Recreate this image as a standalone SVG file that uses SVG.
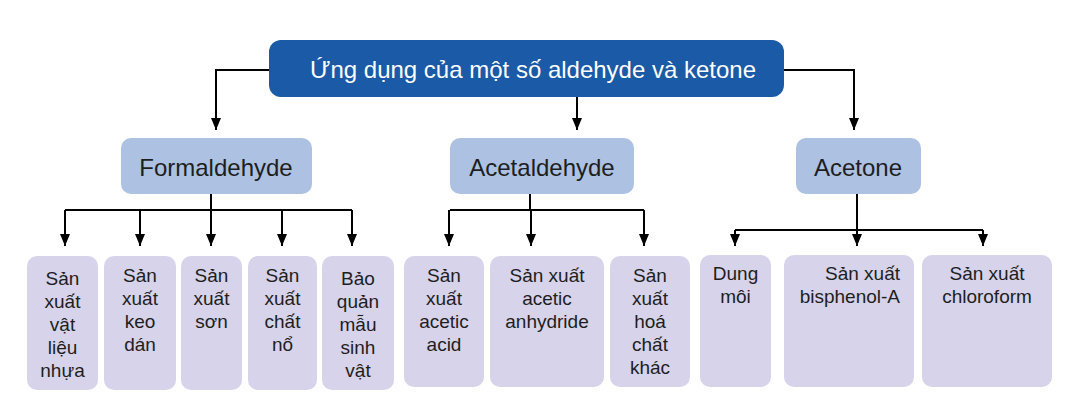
<svg xmlns="http://www.w3.org/2000/svg" width="1080" height="415" viewBox="0 0 1080 415">
<defs>
<marker id="ah" viewBox="0 0 12 10" refX="12" refY="5" markerWidth="12" markerHeight="10" markerUnits="userSpaceOnUse" orient="auto">
<path d="M0,0 L12,5 L0,10 z" fill="#000"/>
</marker>
</defs>
<style>
.root{fill:#1b5aa6}
.mid{fill:#adc2e2}
.leaf{fill:#d6d3ea}
text{font-family:"Liberation Sans",Arial,sans-serif;fill:#1e1e1e}
.t0{font-size:24px;fill:#fff}
.t1{font-size:24px;text-anchor:middle}
.t2{font-size:19px;text-anchor:middle}
.t3{font-size:19px;text-anchor:end}
.c{fill:none;stroke:#000;stroke-width:2}
.a{marker-end:url(#ah)}
</style>
<rect width="1080" height="415" fill="#fff"/>
<g id="connectors">
<path class="c a" d="M269,70 H216 V130"/>
<path class="c a" d="M577,97 V130"/>
<path class="c a" d="M784,70 H854 V130"/>
<path class="c" d="M211,194 V210 M65,210 H352 M450,210 H644 M530,194 V210 M857,194 V230 M735,230 H983"/>
<path class="c a" d="M65,210 V246"/>
<path class="c a" d="M140,210 V246"/>
<path class="c a" d="M211,210 V246"/>
<path class="c a" d="M282,210 V246"/>
<path class="c a" d="M352,210 V246"/>
<path class="c a" d="M449,210 V246"/>
<path class="c a" d="M531,210 V246"/>
<path class="c a" d="M644,210 V246"/>
<path class="c a" d="M735,230 V246"/>
<path class="c a" d="M857,230 V246"/>
<path class="c a" d="M983,230 V246"/>
</g>
<g id="root">
<rect class="root" x="269" y="40" width="515" height="57" rx="12"/>
<text class="t0" x="533" y="78" text-anchor="middle">Ứng dụng của một số aldehyde và ketone</text>
</g>
<g id="formaldehyde">
<rect class="mid" x="121" y="138" width="191" height="56" rx="10"/>
<text class="t1" x="216" y="176">Formaldehyde</text>
</g>
<g id="acetaldehyde">
<rect class="mid" x="450" y="138" width="184" height="56" rx="10"/>
<text class="t1" x="542" y="176">Acetaldehyde</text>
</g>
<g id="acetone">
<rect class="mid" x="796" y="138" width="125" height="56" rx="10"/>
<text class="t1" x="858" y="176">Acetone</text>
</g>
<g id="leaf1">
<rect class="leaf" x="27" y="256" width="71" height="134" rx="10"/>
<text class="t2" x="62.5" y="285">Sản<tspan x="62.5" dy="23">xuất</tspan><tspan x="62.5" dy="23">vật</tspan><tspan x="62.5" dy="23">liệu</tspan><tspan x="62.5" dy="23">nhựa</tspan></text>
</g>
<g id="leaf2">
<rect class="leaf" x="104" y="256" width="72" height="134" rx="10"/>
<text class="t2" x="140" y="282">Sản<tspan x="140" dy="23">xuất</tspan><tspan x="140" dy="23">keo</tspan><tspan x="140" dy="23">dán</tspan></text>
</g>
<g id="leaf3">
<rect class="leaf" x="181" y="256" width="61" height="134" rx="10"/>
<text class="t2" x="211.5" y="282">Sản<tspan x="211.5" dy="23">xuất</tspan><tspan x="211.5" dy="23">sơn</tspan></text>
</g>
<g id="leaf4">
<rect class="leaf" x="248" y="256" width="69" height="134" rx="10"/>
<text class="t2" x="282.5" y="282">Sản<tspan x="282.5" dy="23">xuất</tspan><tspan x="282.5" dy="23">chất</tspan><tspan x="282.5" dy="23">nổ</tspan></text>
</g>
<g id="leaf5">
<rect class="leaf" x="322" y="256" width="72" height="134" rx="10"/>
<text class="t2" x="358" y="285">Bảo<tspan x="358" dy="23">quản</tspan><tspan x="358" dy="23">mẫu</tspan><tspan x="358" dy="23">sinh</tspan><tspan x="358" dy="23">vật</tspan></text>
</g>
<g id="leaf6">
<rect class="leaf" x="404" y="256" width="80" height="131" rx="10"/>
<text class="t2" x="444" y="282">Sản<tspan x="444" dy="23">xuất</tspan><tspan x="444" dy="23">acetic</tspan><tspan x="444" dy="23">acid</tspan></text>
</g>
<g id="leaf7">
<rect class="leaf" x="490" y="256" width="114" height="131" rx="10"/>
<text class="t2" x="547" y="282">Sản xuất<tspan x="547" dy="23">acetic</tspan><tspan x="547" dy="23">anhydride</tspan></text>
</g>
<g id="leaf8">
<rect class="leaf" x="610" y="256" width="80" height="131" rx="10"/>
<text class="t2" x="650" y="282">Sản<tspan x="650" dy="23">xuất</tspan><tspan x="650" dy="23">hoá</tspan><tspan x="650" dy="23">chất</tspan><tspan x="650" dy="23">khác</tspan></text>
</g>
<g id="leaf9">
<rect class="leaf" x="700" y="255" width="71" height="132" rx="10"/>
<text class="t2" x="735.5" y="280">Dung<tspan x="735.5" dy="23">môi</tspan></text>
</g>
<g id="leaf10">
<rect class="leaf" x="784" y="255" width="130" height="132" rx="10"/>
<text class="t3" x="900" y="280">Sản xuất<tspan x="900" dy="23">bisphenol-A</tspan></text>
</g>
<g id="leaf11">
<rect class="leaf" x="922" y="255" width="130" height="132" rx="10"/>
<text class="t2" x="987" y="280">Sản xuất<tspan x="987" dy="23">chloroform</tspan></text>
</g>
</svg>
